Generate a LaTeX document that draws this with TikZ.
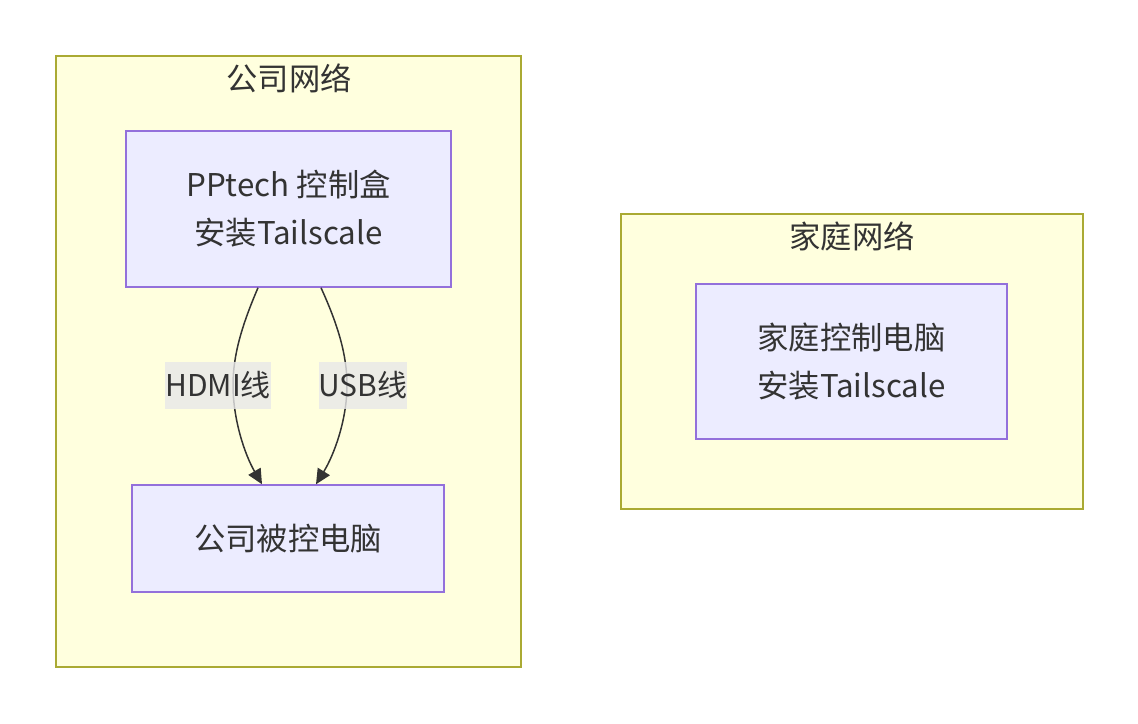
\documentclass[tikz,border=0pt]{standalone}
\usepackage{fontspec}
\setmainfont{Noto Sans CJK SC}
\usetikzlibrary{arrows.meta}
\definecolor{clfill}{HTML}{FFFFDE}
\definecolor{clline}{HTML}{AAAA33}
\definecolor{ndfill}{HTML}{ECECFF}
\definecolor{ndline}{HTML}{9370DB}
\definecolor{txt}{HTML}{333333}
\definecolor{lbl}{HTML}{E8E8E8}
\def\u{0.75pt}
\begin{document}
\begin{tikzpicture}[x=0.75pt,y=-0.75pt,
  cluster/.style={draw=clline,fill=clfill,line width=1.3*\u},
  nodebox/.style={draw=ndline,fill=ndfill,line width=1.5*\u,text=txt,align=center,font=\fontsize{23.5}{36}\selectfont,inner sep=0pt},
  title/.style={text=txt,font=\fontsize{23.5}{28}\selectfont,inner sep=0pt},
  elabel/.style={fill=lbl,fill opacity=0.8,text opacity=1,text=txt,font=\fontsize{22.5}{28}\selectfont,inner sep=0pt,minimum height=47*\u},
  edge/.style={draw=txt,line width=1.5*\u,-{Triangle[length=15*\u,width=14*\u]}}]
\useasboundingbox (0,0) rectangle (1138,724);
\fill[white] (0,0) rectangle (1138,724);
% clusters
\draw[cluster] (56,56) rectangle (521,667);
\node[title] (t1) at (289,78) {公司网络};
\draw[cluster] (621,214) rectangle (1083,509);
\node[title] (t2) at (852,236) {家庭网络};
% nodes
\node[nodebox,minimum width=325*\u,minimum height=156*\u] (pp) at (288.5,209) {PPtech 控制盒\\安装Tailscale};
\node[nodebox,minimum width=312*\u,minimum height=107*\u] (pc) at (288,538.5) {公司被控电脑};
\node[nodebox,minimum width=311*\u,minimum height=155*\u] (home) at (851.5,361.5) {家庭控制电脑\\安装Tailscale};
% edge label positions
\coordinate (h) at (233,385);
\coordinate (s) at (347,385);
\draw[edge] ([xshift=-30.5*\u]pp.south) .. controls (242,325) and (233,355) .. (h) .. controls (233,420) and (245,455) .. ([xshift=-26*\u]pc.north);
\draw[edge] ([xshift=32.5*\u]pp.south) .. controls (338,325) and (347,355) .. (s) .. controls (347,420) and (334,455) .. ([xshift=28*\u]pc.north);
\node[elabel,minimum width=104*\u] (hl) at (218,385.5) {HDMI线};
\node[elabel,minimum width=86*\u] (sl) at (363,385.5) {USB线};
\end{tikzpicture}
\end{document}
